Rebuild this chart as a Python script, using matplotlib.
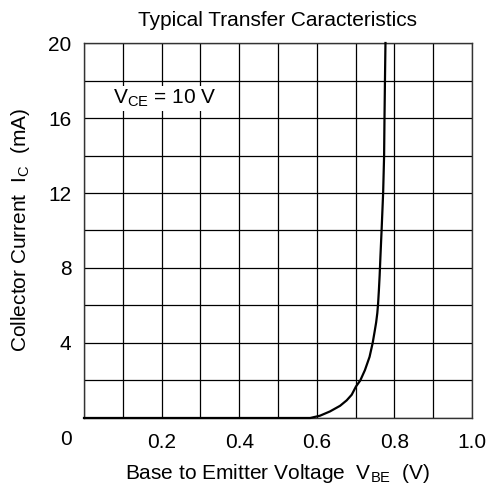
import matplotlib
matplotlib.use("Agg")
import matplotlib.pyplot as plt
import matplotlib.transforms as mtransforms
import numpy as np

# transfer curve
vbe = [0.0, 0.30, 0.583, 0.608, 0.634, 0.660, 0.677, 0.690, 0.701, 0.712,
       0.724, 0.736, 0.744, 0.749, 0.753, 0.756, 0.758, 0.760, 0.762, 0.764,
       0.767, 0.771, 0.7735, 0.7745, 0.7757, 0.777]
ic = [0.0, 0.0, 0.0, 0.12, 0.35, 0.65, 0.94, 1.24, 1.68, 2.0,
      2.55, 3.26, 4.0, 4.6, 5.1, 5.6, 6.1, 6.8, 7.6, 8.6,
      10.0, 12.0, 14.0, 16.0, 18.0, 20.0]

x_ticks = [0.2, 0.4, 0.6, 0.8, 1.0]
x_labels = ["0.2", "0.4", "0.6", "0.8", "1.0"]
y_ticks = [4, 8, 12, 16, 20]
y_labels = ["4", "8", "12", "16", "20"]

plt.rcParams["font.family"] = ["Liberation Sans", "DejaVu Sans"]
plt.rcParams["mathtext.fontset"] = "custom"
plt.rcParams["mathtext.rm"] = "Liberation Sans"
plt.rcParams["mathtext.it"] = "Liberation Sans:italic"

fs = 15

fig = plt.figure(figsize=(4.89, 4.91), dpi=100)
ax = fig.add_axes([0.1718, 0.1487, 0.7934, 0.7637])

ax.set_xlim(0, 1.0)
ax.set_ylim(0, 20)
ax.set_xticks(x_ticks)
ax.set_xticklabels(x_labels, fontsize=fs)
ax.set_yticks(y_ticks)
ax.set_yticklabels(y_labels, fontsize=fs)
ax.set_xticks(np.arange(0, 1.01, 0.1), minor=True)
ax.set_yticks(np.arange(0, 20.1, 2), minor=True)
ax.tick_params(which="both", length=0)
ax.tick_params(axis="x", pad=11)
ax.tick_params(axis="y", pad=9)
ax.grid(which="both", color="black", linewidth=0.9)
ax.set_axisbelow(True)
for s in ax.spines.values():
    s.set_color("#333333")
    s.set_linewidth(1.0)

ax.plot(vbe, ic, color="black", linewidth=1.6, clip_on=False, zorder=3,
        solid_joinstyle="round")

# corner "0" label
offset = mtransforms.offset_copy(ax.transAxes, fig=fig, x=-12, y=-22, units="dots")
ax.text(0, 0, "0", transform=offset, ha="right", va="center", fontsize=fs)

ax.text(0.0747, 16.75, r"V$_{\mathrm{CE}}$ = 10 V", fontsize=fs, ha="left", va="baseline",
        bbox=dict(facecolor="white", edgecolor="none", pad=1))

ax.set_title("Typical Transfer Caracteristics", fontsize=fs, pad=12)
ax.set_xlabel(r"Base to Emitter Voltage  V$_{\mathrm{BE}}$  (V)", fontsize=fs, labelpad=7)
ax.set_ylabel(r"Collector Current  I$_{\mathrm{C}}$  (mA)", fontsize=fs, labelpad=12)

fig.savefig("out.png", dpi=100)
